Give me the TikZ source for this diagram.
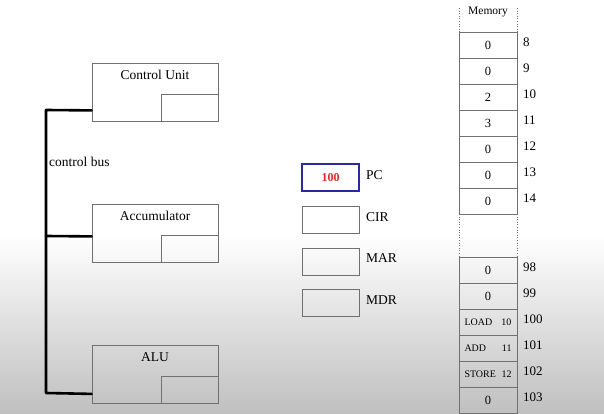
\documentclass[tikz,border=0pt]{standalone}
\usepackage{fontspec}
\setmainfont{Liberation Serif}
\newfontfamily\tnr{Liberation Serif}
\begin{document}
\begin{tikzpicture}[x=1pt,y=-1pt,
  every node/.style={font=\tnr},
  box/.style={draw=boxgray,line width=0.8pt,minimum width=126pt,minimum height=58pt,inner sep=0pt},
  inbox/.style={draw=boxgray,line width=0.8pt,minimum width=57pt,minimum height=27pt,inner sep=0pt},
  title/.style={font=\tnr\fontsize{13.5}{15}\selectfont},
  reg/.style={draw=boxgray,line width=0.8pt,minimum width=57pt,minimum height=27pt,inner sep=0pt},
  reglab/.style={anchor=west,font=\tnr\fontsize{13.5}{15}\selectfont,inner sep=0pt},
  cell/.style={draw=boxgray,line width=0.8pt,minimum width=58pt,minimum height=26pt,inner sep=0pt,font=\tnr\fontsize{12.5}{14}\selectfont},
  addr/.style={anchor=west,font=\tnr\fontsize{13}{15}\selectfont,inner sep=0pt},
  bus/.style={line width=2.6pt,line cap=round,line join=round},
  dotline/.style={draw=boxgray,line width=0.6pt,dotted}]
\definecolor{boxgray}{HTML}{707070}
\definecolor{pcblue}{HTML}{2A2A9E}
\definecolor{pcred}{HTML}{E02828}
\useasboundingbox (0,0) rectangle (604,414);
\fill[white] (0,0) rectangle (604,236);
\shade[top color=white,bottom color=black!25] (0,235) rectangle (604,414);

% CPU boxes
\node[box] (cu) at (155,92) {};
\node[title] (cut) at (155,75) {Control Unit};
\node[inbox] (cui) at (189.5,107.5) {};
\node[box] (acc) at (155,233) {};
\node[title] (acct) at (155,216) {Accumulator};
\node[inbox] (acci) at (189.5,249) {};
\node[box] (alu) at (155,374.5) {};
\node[title] (alut) at (155,357) {ALU};
\node[inbox] (alui) at (189.5,390) {};

% control bus
\coordinate (bt) at (46,110);
\coordinate (bm) at (46,236);
\coordinate (bb) at (46,393);
\draw[bus] ([yshift=11pt]cu.south west) -- (bt) -- (bb) -- ([yshift=10pt]alu.south west);
\draw[bus] ([yshift=26pt]acc.south west) -- (bm);
\node[anchor=west,font=\tnr\fontsize{13.5}{15}\selectfont,inner sep=0pt] (cbus) at (49,162) {control bus};

% registers
\node[reg,draw=pcblue,line width=1.6pt,text=pcred,font=\tnr\fontsize{12}{14}\selectfont\bfseries] (pc) at (330.5,177.5) {100};
\node[reglab] (pcl) at (366,175) {PC};
\node[reg] (cir) at (330.5,220) {};
\node[reglab] (cirl) at (366,217) {CIR};
\node[reg] (mar) at (330.5,261.5) {};
\node[reglab] (marl) at (366,258) {MAR};
\node[reg] (mdr) at (330.5,303) {};
\node[reglab] (mdrl) at (366,300) {MDR};

% memory
\node[font=\tnr\fontsize{11.5}{13}\selectfont] (memt) at (488,12) {Memory};
\coordinate (d1a) at (459,8); \coordinate (d1b) at (459,32);
\coordinate (d2a) at (517,8); \coordinate (d2b) at (517,32);
\coordinate (d3a) at (459,214); \coordinate (d3b) at (459,257);
\coordinate (d4a) at (517,214); \coordinate (d4b) at (517,257);
\draw[dotline] (d1a) -- (d1b);
\draw[dotline] (d2a) -- (d2b);
\draw[dotline] (d3a) -- (d3b);
\draw[dotline] (d4a) -- (d4b);

\foreach \v/\a [count=\i from 0] in {0/8,0/9,2/10,3/11,0/12,0/13,0/14}{
  \node[cell] (m\a) at (488,{45+26*\i}) {\v};
  \node[addr] (a\a) at (523,{42+26*\i}) {\a};
}
\node[cell] (m98) at (488,270) {0};
\node[addr] (a98) at (523,267) {98};
\node[cell] (m99) at (488,296) {0};
\node[addr] (a99) at (523,293) {99};
\node[cell,font=\tnr\fontsize{10}{11}\selectfont] (m100) at (488,322) {\makebox[47pt]{LOAD\hfill 10}};
\node[addr] (a100) at (523,319) {100};
\node[cell,font=\tnr\fontsize{10}{11}\selectfont] (m101) at (488,348) {\makebox[47pt]{ADD\hfill 11}};
\node[addr] (a101) at (523,345) {101};
\node[cell,font=\tnr\fontsize{10}{11}\selectfont] (m102) at (488,374) {\makebox[47pt]{STORE\hfill 12}};
\node[addr] (a102) at (523,371) {102};
\node[cell] (m103) at (488,400) {0};
\node[addr] (a103) at (523,397) {103};
\end{tikzpicture}
\end{document}
